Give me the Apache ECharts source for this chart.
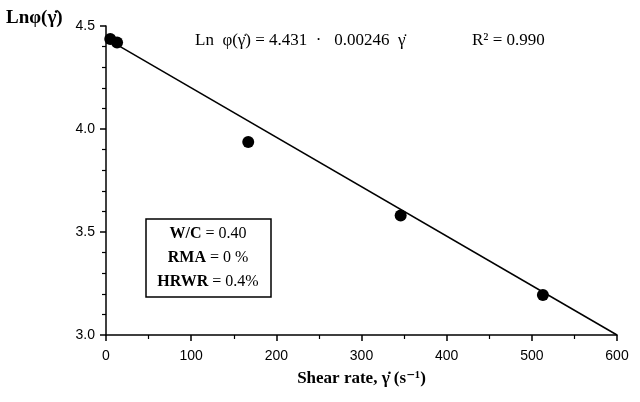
<!DOCTYPE html>
<html>
<head>
<meta charset="utf-8">
<script src="https://cdn.jsdelivr.net/npm/echarts@6/dist/echarts.min.js"></script>
<style>
  html, body { margin: 0; padding: 0; background: #fff; }
  #chartWrapper { width: 640px; height: 402px; }
</style>
</head>
<body>
<div id="chartWrapper"></div>
<script>
// measured points: shear rate (1/s) vs ln(phi)
let shearRate = [5, 13, 167, 346, 513];
let lnPhi = [4.437, 4.42, 3.937, 3.58, 3.194];
// fitted line as drawn in the figure
let fitX = [0, 600];
let fitY = [4.44, 3.0];
let xTicks = [0, 100, 200, 300, 400, 500, 600];
let yTicks = [3.0, 3.5, 4.0, 4.5];

let myChart = echarts.init(document.getElementById('chartWrapper'));

let points = shearRate.map(function (x, i) { return [x, lnPhi[i]]; });
let line = fitX.map(function (x, i) { return [x, fitY[i]]; });

let serif = '"Liberation Serif", "DejaVu Serif", serif';
let sans = '"Liberation Sans", Arial, sans-serif';

let option = {
    backgroundColor: '#fff',
    animation: false,
    grid: {
        left: 106,
        right: 23,
        top: 26,
        bottom: 67
    },
    xAxis: {
        type: 'value',
        min: xTicks[0],
        max: xTicks[xTicks.length - 1],
        interval: 100,
        name: 'Shear rate, γ̇ (s⁻¹)',
        nameLocation: 'middle',
        nameGap: 35,
        nameTextStyle: { fontFamily: serif, fontWeight: 'bold', fontSize: 17, color: '#000' },
        axisLine: { lineStyle: { color: '#000', width: 1.5 } },
        axisTick: { show: true, length: 6, lineStyle: { color: '#000', width: 1.5 } },
        minorTick: { show: true, splitNumber: 2, length: 4, lineStyle: { color: '#000', width: 1.2 } },
        axisLabel: {
            margin: 14,
            fontFamily: sans,
            fontSize: 14,
            color: '#000'
        },
        splitLine: { show: false }
    },
    yAxis: {
        type: 'value',
        min: yTicks[0],
        max: yTicks[yTicks.length - 1],
        interval: 0.5,
        axisLine: { show: true, lineStyle: { color: '#000', width: 1.5 } },
        axisTick: { show: true, length: 6, lineStyle: { color: '#000', width: 1.5 } },
        minorTick: { show: true, splitNumber: 5, length: 4, lineStyle: { color: '#000', width: 1.2 } },
        axisLabel: {
            margin: 11,
            fontFamily: sans,
            fontSize: 14,
            color: '#000',
            formatter: function (v) { return v.toFixed(1); }
        },
        splitLine: { show: false }
    },
    graphic: [
        {
            type: 'text',
            left: 6,
            top: 9,
            style: { text: 'Lnφ(γ̇)', font: 'bold 19px ' + serif, fill: '#000' }
        },
        {
            type: 'text',
            left: 195,
            top: 32,
            style: { text: 'Ln  φ(γ̇) = 4.431  ·   0.00246  γ̇', font: '17px ' + serif, fill: '#000' }
        },
        {
            type: 'text',
            left: 472,
            top: 32,
            style: { text: 'R² = 0.990', font: '17px ' + serif, fill: '#000' }
        },
        {
            type: 'rect',
            shape: { x: 146, y: 219, width: 125, height: 78 },
            style: { fill: '#fff', stroke: '#000', lineWidth: 1.5 },
            z: 10
        },
        {
            type: 'text',
            x: 208,
            y: 258,
            z: 11,
            style: {
                text: '{b|W/C} = 0.40\n{b|RMA} = 0 %\n{b|HRWR} = 0.4%',
                align: 'center',
                verticalAlign: 'middle',
                lineHeight: 24,
                font: '16px ' + serif,
                fill: '#000',
                rich: {
                    b: { fontWeight: 'bold', fontFamily: serif, fontSize: 16, fill: '#000' }
                }
            }
        }
    ],
    series: [
        {
            name: 'fit',
            type: 'line',
            data: line,
            symbol: 'none',
            lineStyle: { color: '#000', width: 1.5 },
            z: 2
        },
        {
            name: 'data',
            type: 'scatter',
            data: points,
            symbol: 'circle',
            symbolSize: 12,
            itemStyle: { color: '#000', opacity: 1 },
            z: 3
        }
    ]
};

myChart.setOption(option);
</script>
</body>
</html>
